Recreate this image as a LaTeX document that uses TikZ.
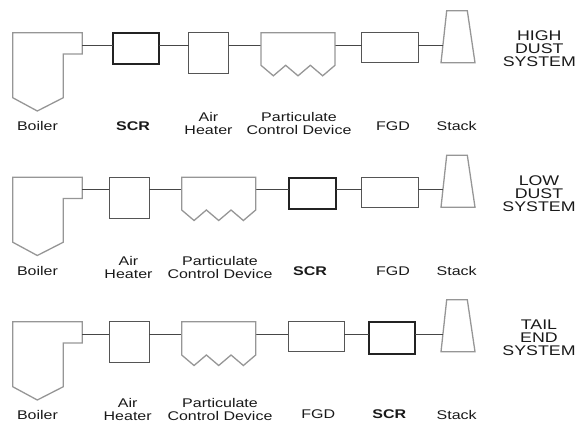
\documentclass[tikz,border=0pt]{standalone}
\usepackage{fontspec}
\setmainfont{Liberation Sans}[FakeStretch=1.27]
\usepackage{xcolor}
\usepackage{tikz}
\usetikzlibrary{positioning}
\definecolor{outlinegray}{RGB}{150, 150, 150}
\definecolor{linkgray}{RGB}{70, 70, 70}
\definecolor{boxgray}{RGB}{85, 85, 85}
\definecolor{scrdark}{RGB}{35, 35, 35}
\definecolor{textdark}{RGB}{25, 25, 25}

\begin{document}
\begin{tikzpicture}[
  x=1pt, y=-1pt,
  outline/.style={draw=outlinegray, line width=1.3pt, line join=miter},
  link/.style={draw=linkgray, line width=1pt},
  unitbox/.style={rectangle, draw=boxgray, line width=1pt, inner sep=0pt, outer sep=0pt, anchor=north west},
  scrbox/.style={unitbox, draw=scrdark, line width=1.9pt},
  pcdbox/.style={unitbox, draw=none, minimum width=74pt},
  unitname/.style={font=\fontsize{12.6}{12.8}\selectfont, text=textdark, inner sep=0pt, anchor=base},
  twoname/.style={unitname, align=center, anchor=south},
  sysname/.style={font=\fontsize{14}{13.1}\selectfont, text=textdark, inner sep=0pt, align=center}
]
\useasboundingbox (0,0) rectangle (577,423);

% boiler and stack repeat in every row
\foreach \r/\dy in {1/0, 2/144.5, 3/289}{
  \begin{scope}[shift={(0,\dy)}]
    \draw[outline] (12.7,32.7) -- (82.3,32.7) -- (82.3,54) -- (63.3,54) -- (63.3,97.7) -- (37.3,111) -- (12.7,97.7) -- cycle;
    \coordinate (boil\r) at (82.3,45.3);
    \draw[outline] (446.7,10.7) -- (467.3,10.7) -- (475,62.7) -- (441,62.7) -- cycle;
    \coordinate (stk\r) at (442.9,45.3);
    \node[unitname] (boiler\r) at (37.5,130.5) {Boiler};
    \node[unitname] (stack\r) at (456.7,130.5) {Stack};
  \end{scope}
}

% high dust
\node[scrbox, minimum width=46.3pt, minimum height=31.6pt] (scr1) at (112.7,32.7) {};
\node[unitbox, minimum width=40pt, minimum height=40.3pt] (air1) at (188.7,32.7) {};
\node[pcdbox, minimum height=32.6pt] (pcd1) at (261,32.7) {};
\node[unitbox, minimum width=56.6pt, minimum height=30.4pt] (fgd1) at (361.7,32.3) {};
\draw[link] (boil1) -- (scr1.west |- boil1);
\foreach \a/\b in {scr1/air1, air1/pcd1, pcd1/fgd1}
  \draw[link] (\a.east |- boil1) -- (\b.west |- boil1);
\draw[link] (fgd1.east |- boil1) -- (stk1);
\node[unitname, font=\fontsize{12.6}{12.8}\selectfont\bfseries] (scrname1) at (133,130.5) {SCR};
\node[twoname] (airname1) at (208.5,134.5) {Air\\Heater};
\node[twoname] (pcdname1) at (299,134.5) {Particulate\\Control Device};
\node[unitname] (fgdname1) at (393,130.5) {FGD};
\node[sysname] (sys1) at (539.3,48.7) {HIGH\\DUST\\SYSTEM};

% low dust
\node[unitbox, minimum width=40pt, minimum height=41pt] (air2) at (109,177.3) {};
\node[pcdbox, minimum height=32.7pt] (pcd2) at (181.7,177.3) {};
\node[scrbox, minimum width=46.7pt, minimum height=31pt] (scr2) at (289.3,178.3) {};
\node[unitbox, minimum width=56.6pt, minimum height=30.4pt] (fgd2) at (361.7,177.3) {};
\draw[link] (boil2) -- (air2.west |- boil2);
\foreach \a/\b in {air2/pcd2, pcd2/scr2, scr2/fgd2}
  \draw[link] (\a.east |- boil2) -- (\b.west |- boil2);
\draw[link] (fgd2.east |- boil2) -- (stk2);
\node[twoname] (airname2) at (128.5,279) {Air\\Heater};
\node[twoname] (pcdname2) at (220,279) {Particulate\\Control Device};
\node[unitname, font=\fontsize{12.6}{12.8}\selectfont\bfseries] (scrname2) at (310,275) {SCR};
\node[unitname] (fgdname2) at (393,275) {FGD};
\node[sysname] (sys2) at (539,193.3) {LOW\\DUST\\SYSTEM};

% tail end
\node[unitbox, minimum width=40pt, minimum height=40.6pt] (air3) at (109,321.7) {};
\node[pcdbox, minimum height=33.3pt] (pcd3) at (181.7,321.7) {};
\node[unitbox, minimum width=55.7pt, minimum height=30pt] (fgd3) at (288.3,321.7) {};
\node[scrbox, minimum width=45.7pt, minimum height=32.3pt] (scr3) at (369.3,321.7) {};
\draw[link] (boil3) -- (air3.west |- boil3);
\foreach \a/\b in {air3/pcd3, pcd3/fgd3, fgd3/scr3}
  \draw[link] (\a.east |- boil3) -- (\b.west |- boil3);
\draw[link] (scr3.east |- boil3) -- (stk3);
\node[twoname] (airname3) at (127.7,420.5) {Air\\Heater};
\node[twoname] (pcdname3) at (220,420.5) {Particulate\\Control Device};
\node[unitname] (fgdname3) at (318.3,418.5) {FGD};
\node[unitname, font=\fontsize{12.6}{12.8}\selectfont\bfseries] (scrname3) at (389.3,418.5) {SCR};
\node[sysname] (sys3) at (539,337.7) {TAIL\\END\\SYSTEM};

% particulate control device outlines
\foreach \p in {pcd1, pcd2, pcd3}
  \draw[outline] (\p.south west) -- (\p.north west) -- (\p.north east) -- (\p.south east)
    -- ++(-12.33,10.5) -- ++(-12.33,-10.5) -- ++(-12.33,10.5) -- ++(-12.33,-10.5) -- ++(-12.33,10.5) -- cycle;
\end{tikzpicture}
\end{document}
